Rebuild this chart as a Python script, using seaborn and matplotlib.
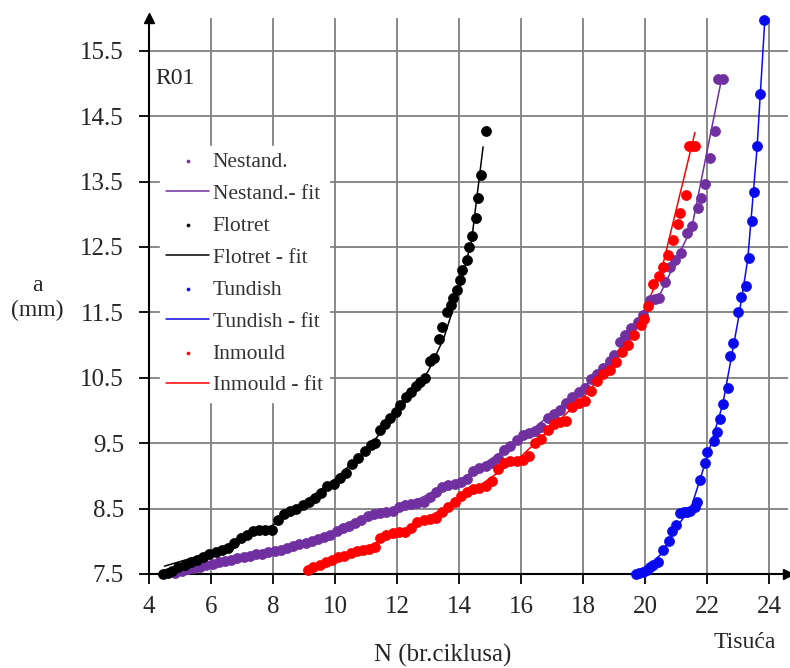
"""
Crack growth a vs N for R01, four castings with fitted curves.
"""
import pandas as pd
import seaborn as sns
import matplotlib
matplotlib.use("Agg")
import matplotlib.pyplot as plt

# measured points, N in thousands of cycles, a in mm
nestand_n = [4.85, 5.05, 5.25, 5.45, 5.65, 5.85, 6.05, 6.25, 6.45, 6.65, 6.85, 7.05, 7.25, 7.45,
             7.65, 7.85, 8.05, 8.25, 8.45, 8.65, 8.85, 9.05, 9.25, 9.45, 9.65, 9.85, 10.05, 10.25,
             10.45, 10.65, 10.85, 11.05, 11.25, 11.45, 11.65, 11.85, 12.05, 12.25, 12.45, 12.65,
             12.85, 13.05, 13.25, 13.45, 13.65, 13.85, 14.05, 14.25, 14.45, 14.65, 14.85, 15.05,
             15.25, 15.45, 15.65, 15.85, 16.05, 16.25, 16.45, 16.65, 16.85, 17.05, 17.25, 17.45,
             17.65, 17.85, 18.05, 18.25, 18.45, 18.65, 18.85, 19.0, 19.2, 19.35, 19.55, 19.75,
             19.94, 20.16, 20.3, 20.45, 20.65, 20.8, 20.95, 21.15, 21.35, 21.5, 21.7, 21.8, 21.93,
             22.1, 22.25, 22.35, 22.5]
nestand_a = [7.52, 7.55, 7.57, 7.59, 7.61, 7.64, 7.66, 7.68, 7.7, 7.72, 7.74, 7.76, 7.78, 7.8,
             7.81, 7.83, 7.85, 7.87, 7.9, 7.93, 7.96, 7.98, 8.01, 8.03, 8.06, 8.1, 8.16, 8.2,
             8.24, 8.28, 8.33, 8.38, 8.41, 8.43, 8.45, 8.47, 8.53, 8.56, 8.57, 8.58,
             8.6, 8.68, 8.75, 8.83, 8.86, 8.88, 8.9, 8.95, 9.08, 9.12, 9.15, 9.2,
             9.28, 9.4, 9.45, 9.55, 9.62, 9.66, 9.68, 9.74, 9.88, 9.94, 10.0, 10.12,
             10.2, 10.28, 10.34, 10.48, 10.55, 10.65, 10.75, 10.85, 11.05, 11.15, 11.26, 11.36,
             11.46, 11.69, 11.7, 11.72, 11.96, 12.2, 12.3, 12.4, 12.72, 12.82, 13.1, 13.25, 13.46,
             13.86, 14.27, 15.06, 15.06]

flotret_n = [4.45, 4.6, 4.75, 4.95, 5.15, 5.35, 5.55, 5.75, 5.95, 6.15, 6.35, 6.55, 6.75, 6.95,
             7.15, 7.35, 7.55, 7.75, 7.95, 8.15, 8.35, 8.55, 8.75, 8.95, 9.15, 9.35, 9.55, 9.75,
             9.95, 10.15, 10.35, 10.55, 10.75, 10.95, 11.15, 11.3, 11.45, 11.6, 11.77, 11.95, 12.1,
             12.3, 12.45, 12.6, 12.75, 12.9, 13.05, 13.2, 13.35, 13.45, 13.6, 13.72, 13.8, 13.93,
             14.02, 14.1, 14.26, 14.32, 14.4, 14.55, 14.6, 14.7, 14.85]
flotret_a = [7.5, 7.52, 7.55, 7.6, 7.64, 7.68, 7.72, 7.76, 7.8, 7.84, 7.87, 7.9, 7.97, 8.05,
             8.1, 8.15, 8.17, 8.17, 8.18, 8.33, 8.42, 8.46, 8.5, 8.56, 8.6, 8.66, 8.74, 8.84,
             8.88, 8.96, 9.05, 9.18, 9.28, 9.38, 9.47, 9.5, 9.7, 9.8, 9.88, 9.98, 10.08,
             10.2, 10.28, 10.38, 10.44, 10.5, 10.75, 10.8, 11.1, 11.28, 11.5, 11.62, 11.72, 11.84,
             12.0, 12.15, 12.3, 12.5, 12.67, 12.94, 13.25, 13.6, 14.27]

tundish_n = [19.7, 19.8, 19.94, 20.05, 20.15, 20.26, 20.4, 20.58, 20.75, 20.87, 21.0, 21.13, 21.25,
             21.35, 21.45, 21.6, 21.68, 21.77, 21.93, 22.0, 22.2, 22.32, 22.42, 22.52, 22.65, 22.74,
             22.84, 23.0, 23.1, 23.23, 23.33, 23.45, 23.5, 23.6, 23.7, 23.83]
tundish_a = [7.5, 7.52, 7.53, 7.56, 7.6, 7.64, 7.68, 7.87, 8.0, 8.16, 8.25, 8.43, 8.45,
             8.45, 8.47, 8.52, 8.6, 8.94, 9.2, 9.37, 9.53, 9.67, 9.87, 10.1, 10.35, 10.83,
             11.03, 11.5, 11.73, 11.9, 12.33, 12.9, 13.34, 14.05, 14.84, 15.97]

inmould_n = [9.13, 9.3, 9.5, 9.7, 9.9, 10.1, 10.3, 10.5, 10.7, 10.9, 11.1, 11.3, 11.45, 11.65,
             11.85, 12.05, 12.25, 12.45, 12.65, 12.85, 13.05, 13.25, 13.45, 13.65, 13.85, 14.05,
             14.25, 14.45, 14.65, 14.85, 15.05, 15.25, 15.45, 15.65, 15.85, 16.05, 16.25, 16.45,
             16.65, 16.85, 17.05, 17.25, 17.45, 17.65, 17.85, 18.05, 18.25, 18.45, 18.65, 18.85,
             19.05, 19.25, 19.45, 19.65, 19.85, 19.95, 20.1, 20.26, 20.45, 20.58, 20.74, 20.9,
             21.05, 21.13, 21.3, 21.4, 21.5, 21.6]
inmould_a = [7.56, 7.6, 7.64, 7.68, 7.72, 7.76, 7.78, 7.82, 7.85, 7.86, 7.88, 7.92, 8.05, 8.1,
             8.12, 8.14, 8.14, 8.2, 8.3, 8.32, 8.34, 8.36, 8.45, 8.53, 8.6, 8.7,
             8.76, 8.8, 8.82, 8.84, 8.92, 9.1, 9.2, 9.22, 9.23, 9.24, 9.3, 9.5,
             9.56, 9.7, 9.8, 9.83, 9.84, 10.05, 10.12, 10.14, 10.3, 10.45, 10.55, 10.62,
             10.74, 10.9, 11.0, 11.15, 11.3, 11.4, 11.6, 11.93, 12.05, 12.2, 12.38, 12.6,
             12.85, 13.02, 13.3, 14.05, 14.05, 14.05]

# fitted curves
nestand_fit_n = [4.9, 8.0, 10.0, 12.0, 14.0, 16.0, 18.0, 19.5, 20.5, 21.5, 22.45]
nestand_fit_a = [7.55, 7.85, 8.15, 8.5, 8.93, 9.57, 10.35, 11.1, 11.8, 12.8, 15.05]
flotret_fit_n = [4.5, 6.0, 8.0, 10.0, 11.0, 12.0, 13.0, 13.5, 14.0, 14.4, 14.77]
flotret_fit_a = [7.62, 7.83, 8.25, 8.95, 9.4, 9.95, 10.6, 11.1, 11.85, 12.6, 14.03]
tundish_fit_n = [19.5, 20.0, 20.5, 21.0, 21.5, 22.0, 22.5, 23.0, 23.3, 23.6, 23.85]
tundish_fit_a = [7.5, 7.58, 7.8, 8.2, 8.55, 9.3, 10.1, 11.4, 12.3, 14.0, 15.95]
inmould_fit_n = [9.1, 10.0, 12.0, 14.0, 16.0, 18.0, 19.5, 20.5, 21.6]
inmould_fit_a = [7.55, 7.7, 8.12, 8.63, 9.3, 10.2, 11.05, 12.1, 14.25]

x_ticks = [4, 6, 8, 10, 12, 14, 16, 18, 20, 22, 24]
y_ticks = [7.5, 8.5, 9.5, 10.5, 11.5, 12.5, 13.5, 14.5, 15.5]

series = [
    ("Nestand.", "#7030a0", nestand_n, nestand_a, nestand_fit_n, nestand_fit_a),
    ("Flotret", "black", flotret_n, flotret_a, flotret_fit_n, flotret_fit_a),
    ("Tundish", "#0a0aee", tundish_n, tundish_a, tundish_fit_n, tundish_fit_a),
    ("Inmould", "#ff0000", inmould_n, inmould_a, inmould_fit_n, inmould_fit_a),
]
fit_labels = {"Nestand.": "Nestand.- fit", "Flotret": "Flotret - fit",
              "Tundish": "Tundish - fit", "Inmould": "Inmould - fit"}

sns.set_style("white")
plt.rcParams["font.family"] = ["Liberation Serif", "DejaVu Serif"]

fig = plt.figure(figsize=(7.9, 6.68), dpi=100)
ax = fig.add_axes([149 / 790, 94 / 668, 639 / 790, 556 / 668])

for name, color, n, a, fn, fa in series:
    pts = pd.DataFrame({"N": n, "a": a})
    fit = pd.DataFrame({"N": fn, "a": fa})
    sns.lineplot(data=fit, x="N", y="a", ax=ax, color=color, lw=1.1, sort=False,
                 estimator=None, label=fit_labels[name], zorder=3)
    sns.scatterplot(data=pts, x="N", y="a", ax=ax, color=color, s=52, edgecolor=color,
                    linewidth=0.5, label=name, zorder=4, clip_on=False)

h, l = ax.get_legend_handles_labels()
lookup = dict(zip(l, h))
order = []
for name, *_ in series:
    order += [name, fit_labels[name]]

ax.set_xlim(4, 24.6)
ax.set_ylim(7.5, 16.0)
ax.set_xticks(x_ticks)
ax.set_yticks(y_ticks)
ax.set_yticklabels([f"{v:.1f}" for v in y_ticks])
ax.tick_params(axis="both", direction="out", length=7, width=1.3, color="black",
               labelsize=18, left=True, bottom=True)
ax.tick_params(axis="y", pad=11)
ax.tick_params(axis="x", pad=9)
ax.grid(True, color="#808080", lw=1.3)
ax.set_axisbelow(True)
for side in ["top", "right"]:
    ax.spines[side].set_visible(False)
for side in ["left", "bottom"]:
    ax.spines[side].set_color("black")
    ax.spines[side].set_linewidth(1.5)
ax.plot(0, 1, "^", color="black", ms=7, transform=ax.transAxes, clip_on=False)
ax.plot(1, 0, ">", color="black", ms=7, transform=ax.transAxes, clip_on=False)
ax.set_xlabel("")
ax.set_ylabel("")

leg = ax.legend([lookup[k] for k in order], order, loc="upper left",
                bbox_to_anchor=(0.0, 0.79), fontsize=15.5, frameon=True,
                fancybox=False, edgecolor="white", framealpha=1, labelspacing=0.55,
                handlelength=2.0, handletextpad=0.15, borderpad=0.3, markerscale=0.3)
leg.set_zorder(5)
for txt in leg.get_texts():
    txt.set_color("#333333")

ax.text(4.2, 15.08, "R01", fontsize=17, ha="left", va="center", zorder=6)
fig.text(37 / 790, 1 - 298 / 668, "a\n(mm)", fontsize=17, ha="center", va="center",
         linespacing=1.25)
fig.text(443 / 790, 1 - 655 / 668, "N (br.ciklusa)", fontsize=18, ha="center", va="center")
fig.text(745 / 790, 1 - 643 / 668, "Tisuća", fontsize=17, ha="center", va="center")

fig.savefig("out.png", dpi=100)
